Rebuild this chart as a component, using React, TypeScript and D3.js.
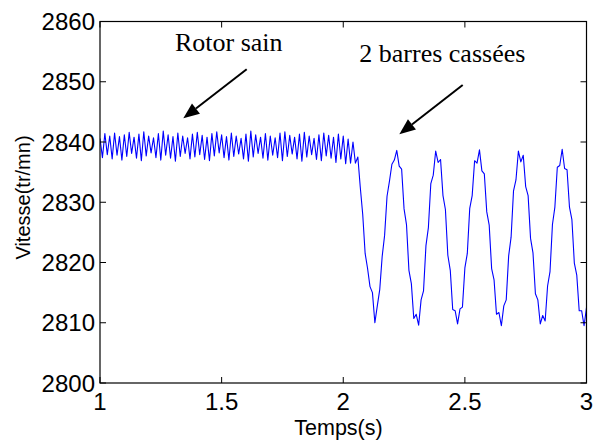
import React from "react";
import * as d3 from "d3";

// ---- data ----
const T0 = 1.0;
const DT = 0.01; // sample spacing (s)

// Rotor sain: t = 1.00 .. 2.03
const speedHealthy: number[] = [
  2840.6, 2837.4, 2841.4, 2837.9, 2841.0, 2837.2, 2841.5, 2837.8, 2840.9, 2837.0,
  2841.2, 2837.6, 2841.6, 2838.1, 2840.8, 2837.3, 2841.3, 2836.9, 2841.7, 2837.7,
  2841.0, 2838.2, 2840.7, 2837.4, 2841.4, 2837.0, 2841.8, 2837.8, 2841.2, 2837.3,
  2840.9, 2836.8, 2841.5, 2837.6, 2841.0, 2838.1, 2840.7, 2837.2, 2841.3, 2837.5,
  2841.6, 2837.9, 2841.1, 2837.1, 2840.8, 2836.9, 2841.4, 2837.7, 2841.7, 2838.2,
  2841.2, 2837.4, 2840.9, 2837.0, 2841.5, 2837.6, 2841.0, 2838.0, 2840.6, 2837.2,
  2841.3, 2836.8, 2841.8, 2837.5, 2841.2, 2838.1, 2840.8, 2837.3, 2841.4, 2837.0,
  2841.0, 2837.8, 2840.7, 2837.4, 2841.5, 2836.9, 2841.7, 2837.6, 2841.1, 2838.0,
  2840.8, 2837.2, 2841.3, 2836.8, 2841.6, 2837.5, 2841.0, 2837.9, 2840.6, 2837.1,
  2841.2, 2836.9, 2841.5, 2837.7, 2841.1, 2837.3, 2840.8, 2836.6, 2841.3, 2837.2,
  2841.0, 2836.4, 2840.5, 2836.5,
];

// 2 barres cassées: t = 2.04 .. 3.00
const speedFaulty: number[] = [
  2840.0, 2836.5, 2837.5, 2832.5, 2828.0, 2821.5, 2819.0, 2816.0, 2815.0, 2810.0,
  2812.8, 2815.5, 2821.0, 2824.5, 2831.0, 2833.5, 2836.3, 2837.0, 2838.6, 2836.0,
  2835.5, 2828.9, 2826.3, 2818.7, 2816.5, 2810.7, 2811.4, 2809.6, 2813.8, 2815.3,
  2822.8, 2825.8, 2833.1, 2834.5, 2838.5, 2836.6, 2837.1, 2831.1, 2828.8, 2821.2,
  2818.7, 2812.2, 2812.0, 2809.8, 2812.3, 2812.6, 2819.1, 2821.5, 2829.0, 2831.1,
  2836.9, 2836.5, 2838.7, 2835.2, 2834.7, 2828.4, 2826.2, 2819.0, 2817.1, 2811.4,
  2811.7, 2809.5, 2812.8, 2813.8, 2821.1, 2824.2, 2831.9, 2833.7, 2838.5, 2836.7,
  2837.8, 2832.6, 2831.1, 2824.0, 2821.6, 2814.8, 2813.8, 2809.8, 2811.2, 2810.3,
  2816.1, 2818.5, 2826.3, 2829.2, 2835.8, 2836.1, 2838.8, 2835.6, 2835.4, 2829.2,
  2827.1, 2819.9, 2817.9, 2812.0, 2812.0, 2809.5, 2812.5,
];

const xTicks = [1, 1.5, 2, 2.5, 3];
const xTickLabels = ["1", "1.5", "2", "2.5", "3"];
const yTicks = [2800, 2810, 2820, 2830, 2840, 2850, 2860];
const yTickLabels = ["2800", "2810", "2820", "2830", "2840", "2850", "2860"];

const xDomain: [number, number] = [1, 3];
const yDomain: [number, number] = [2800, 2860];

const xLabel = "Temps(s)";
const yLabel = "Vitesse(tr/mn)";

// annotations (data coordinates)
const annotTexts = ["Rotor sain", "2 barres cassées"];
const annotTextX = [1.308, 2.066];
const annotTextY = [2855.05, 2853.36];
const arrowFromX = [1.603, 2.491];
const arrowFromY = [2852.07, 2849.46];
const arrowToX = [1.3425, 2.2305];
const arrowToY = [2843.93, 2841.28];

// ---- layout ----
const W = 604;
const H = 442;
const L = 100;
const R = 586.5;
const T = 21.5;
const B = 383;

export default function App() {
  const x = d3.scaleLinear().domain(xDomain).range([L, R]);
  const y = d3.scaleLinear().domain(yDomain).range([B, T]);

  const samples: [number, number][] = [];
  speedHealthy.forEach((v, i) => samples.push([T0 + i * DT, v]));
  const off = speedHealthy.length;
  speedFaulty.forEach((v, i) => samples.push([T0 + (off + i) * DT, v]));

  const line = d3
    .line<[number, number]>()
    .x((d) => x(d[0]))
    .y((d) => y(d[1]));

  const tickLen = 6;
  const axisFont = "Liberation Sans, Arial, sans-serif";
  const serif = "Liberation Serif, Times New Roman, serif";

  return (
    <svg
      width={W}
      height={H}
      style={{ position: "absolute", left: 0, top: 0, background: "#fff" }}
    >
      <rect x={0} y={0} width={W} height={H} fill="#fff" />
      <defs>
        <clipPath id="plotclip">
          <rect x={L} y={T} width={R - L} height={B - T} />
        </clipPath>
      </defs>

      {/* data line */}
      <path
        d={line(samples) || ""}
        fill="none"
        stroke="#0000ff"
        strokeWidth={1.1}
        strokeLinejoin="round"
        clipPath="url(#plotclip)"
      />

      {/* box */}
      <rect
        x={L}
        y={T}
        width={R - L}
        height={B - T}
        fill="none"
        stroke="#000"
        strokeWidth={1.2}
      />

      {/* x ticks */}
      {xTicks.map((t, i) => (
        <g key={"xt" + i}>
          <line x1={x(t)} x2={x(t)} y1={B} y2={B - tickLen} stroke="#000" strokeWidth={1} />
          <line x1={x(t)} x2={x(t)} y1={T} y2={T + tickLen} stroke="#000" strokeWidth={1} />
          <text
            x={x(t)}
            y={409.5}
            textAnchor="middle"
            fontFamily={axisFont}
            fontSize={24}
            fill="#000"
          >
            {xTickLabels[i]}
          </text>
        </g>
      ))}

      {/* y ticks */}
      {yTicks.map((t, i) => (
        <g key={"yt" + i}>
          <line x1={L} x2={L + tickLen} y1={y(t)} y2={y(t)} stroke="#000" strokeWidth={1} />
          <line x1={R} x2={R - tickLen} y1={y(t)} y2={y(t)} stroke="#000" strokeWidth={1} />
          <text
            x={95}
            y={y(t)}
            dy="0.36em"
            textAnchor="end"
            fontFamily={axisFont}
            fontSize={24}
            fill="#000"
          >
            {yTickLabels[i]}
          </text>
        </g>
      ))}

      {/* axis labels */}
      <text
        x={338.5}
        y={435}
        textAnchor="middle"
        fontFamily={axisFont}
        fontSize={21.5}
        fill="#000"
      >
        {xLabel}
      </text>
      <text
        transform={`translate(30, 197.5) rotate(-90)`}
        textAnchor="middle"
        fontFamily={axisFont}
        fontSize={20}
        fill="#000"
      >
        {yLabel}
      </text>

      {/* annotations */}
      {annotTexts.map((s, i) => (
        <text
          key={"an" + i}
          x={x(annotTextX[i])}
          y={y(annotTextY[i])}
          fontFamily={serif}
          fontSize={26}
          fill="#000"
        >
          {s}
        </text>
      ))}
      {arrowFromX.map((fx, i) => {
        const x1 = x(fx);
        const y1 = y(arrowFromY[i]);
        const x2 = x(arrowToX[i]);
        const y2 = y(arrowToY[i]);
        const ang = Math.atan2(y2 - y1, x2 - x1);
        const hl = 16;
        const hw = 6.5;
        const bx = x2 - hl * Math.cos(ang);
        const by = y2 - hl * Math.sin(ang);
        const px = -Math.sin(ang) * hw;
        const py = Math.cos(ang) * hw;
        return (
          <g key={"ar" + i}>
            <line x1={x1} y1={y1} x2={bx} y2={by} stroke="#000" strokeWidth={2} />
            <polygon
              points={`${x2},${y2} ${bx + px},${by + py} ${bx - px},${by - py}`}
              fill="#000"
            />
          </g>
        );
      })}
    </svg>
  );
}
